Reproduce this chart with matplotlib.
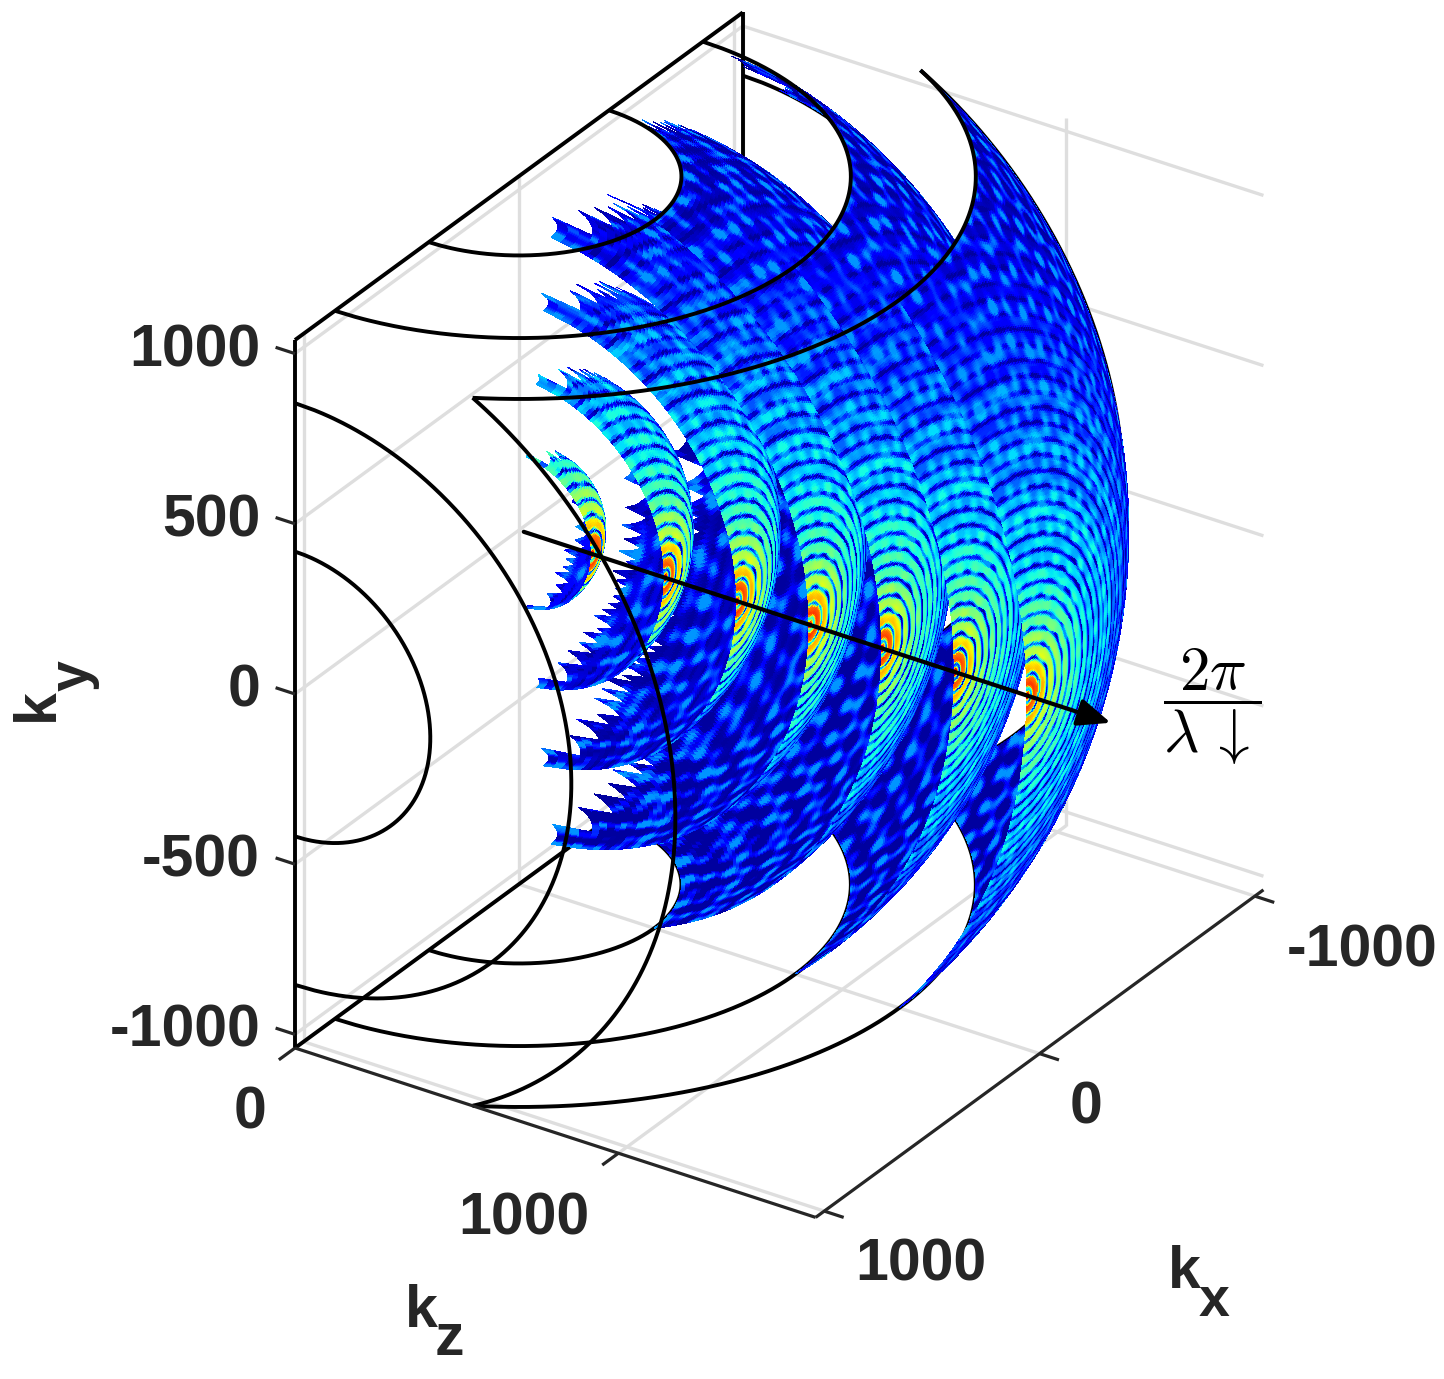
import numpy as np
import matplotlib
matplotlib.use("Agg")
import matplotlib.pyplot as plt
from mpl_toolkits.mplot3d import proj3d
from mpl_toolkits.mplot3d.art3d import Poly3DCollection

# --- values ---
shell_radii = [224, 449, 673, 897, 1121, 1346, 1570]
arc_radii = [1121, 1346, 1570]
kx_ticks = [1000, 0, -1000]
ky_ticks = [1000, 500, 0, -500, -1000]
kz_ticks = [0, 1000]
kx_limit = 1040
ky_limit = 1040
kz_limit = 1610
arrow_kz = [15, 1830]
# colour level of the ring crests against distance from the peak
crest_q = [0, 35, 70, 120, 200, 300, 500, 700, 900, 1100, 1300]
crest_level = [.96, .86, .73, .60, .49, .42, .37, .33, .27, .16, .08]
# NOTE: the speckle inside the shells has hundreds of blobs that cannot be read one by one;
# it is a deterministic approximation of the look (ring spacing and blob spacing read from the
# picture), not measured data.
ring_spacing = 40.0
blob_spacing = 64.0

W, H = 1444, 1379
DARK = "#262626"
FONT = "Liberation Sans"
elev, azim = 29.2, 33.7

fig = plt.figure(figsize=(W / 100, H / 100), dpi=100)
ax = fig.add_axes([0, 0, 1, 1], projection="3d", proj_type="ortho", computed_zorder=False)
ax.set_xlim(-kx_limit, kx_limit, view_margin=0)
ax.set_ylim(0, kz_limit, view_margin=0)
ax.set_zlim(-ky_limit, ky_limit, view_margin=0)
ax.set_box_aspect((806, 625, 810))
ax.view_init(elev=elev, azim=azim)
ax.set_axis_off()


def place_axes():
    """Fit the 3D box to the frame of the figure."""
    def pix(x, y, z):
        px, py, _ = proj3d.proj_transform(x, y, z, ax.get_proj())
        return ax.transData.transform((px, py))
    S = float(H)
    ax.set_position([0, 0, S / W, S / H])
    ax.apply_aspect()
    a = pix(kx_limit, 0, ky_limit)
    b = pix(kx_limit, 0, -ky_limit)
    S *= 708.0 / abs(a[1] - b[1])
    ax.set_position([0, 0, S / W, S / H])
    ax.apply_aspect()
    a = pix(kx_limit, 0, ky_limit)
    ox = 295 - a[0]
    oy = (H - 340) - a[1]
    ax.set_position([ox / W, oy / H, S / W, S / H])
    ax.apply_aspect()


place_axes()


def line(xs, ys, zs, **kw):
    ax.plot(xs, ys, zs, solid_capstyle="butt", **kw)


def pattern(kx, ky, kz):
    g = 2 * np.pi / blob_spacing
    s = (np.cos(g * kx) + np.cos(.86 * g * ky) + np.cos(1.07 * g * kz)
         + .7 * np.cos(.66 * g * (kx + ky)) + .7 * np.cos(.53 * g * (kx - ky + .5 * kz)))
    return s / 4.4


cam = np.array([np.cos(np.radians(elev)) * np.cos(np.radians(azim)),
                np.cos(np.radians(elev)) * np.sin(np.radians(azim)),
                np.sin(np.radians(elev))])


def shell_quads(R, cells_x=70, cells_y=140, n=3):
    cx = np.linspace(-kx_limit, 0, cells_x + 1)
    cy = np.linspace(-ky_limit, ky_limit, cells_y + 1)
    X, Y = np.meshgrid(cx, cy, indexing="ij")
    Z = np.sqrt(np.where(R**2 - X**2 - Y**2 >= 0, R**2 - X**2 - Y**2, np.nan))
    ok = ~(np.isnan(Z[:-1, :-1]) | np.isnan(Z[1:, :-1]) | np.isnan(Z[:-1, 1:]) | np.isnan(Z[1:, 1:]))
    i, j = np.nonzero(ok)
    if len(i) == 0:
        return None
    t = np.arange(n) / n
    U, V = np.meshgrid(t, t, indexing="ij")
    U = U.ravel()[None, :]
    V = V.ravel()[None, :]
    du = 1.0 / n
    x0 = cx[i][:, None]; dx = (cx[i + 1] - cx[i])[:, None]
    y0 = cy[j][:, None]; dy = (cy[j + 1] - cy[j])[:, None]
    z00 = Z[i, j][:, None]; z10 = Z[i + 1, j][:, None]
    z01 = Z[i, j + 1][:, None]; z11 = Z[i + 1, j + 1][:, None]

    def vert(u, v):
        return (x0 + u * dx, y0 + v * dy,
                z00 * (1 - u) * (1 - v) + z10 * u * (1 - v) + z01 * (1 - u) * v + z11 * u * v)

    corners = [vert(U, V), vert(U + du, V), vert(U + du, V + du), vert(U, V + du)]
    vx = np.stack([c[0].ravel() for c in corners], axis=1)
    vy = np.stack([c[1].ravel() for c in corners], axis=1)
    vz = np.stack([c[2].ravel() for c in corners], axis=1)
    # order of the 3D axes: x = kx, y = kz, z = ky
    verts = np.stack([vx, vz, vy], axis=2)

    kx, ky, kz = vx.mean(1), vy.mean(1), vz.mean(1)
    q = np.sqrt(kx**2 + ky**2 + (kz - R)**2)
    s = pattern(kx, ky, kz)
    b = np.clip(.5 + 1.1 * s, 0, 1)
    blob = .03 + .24 * np.clip((s + .14) / .62, 0, 1)
    facing = (kx * cam[0] + kz * cam[1] + ky * cam[2]) / R
    f = np.clip((facing + .05) / .25, 0, 1)
    phase = np.pi * (q + 5 * s) / ring_spacing
    depth = .55 + .45 * (1 - b)
    r = 1 - depth * np.abs(np.sin(phase))**8
    mod = 1 - np.interp(q, [0, 200, 800], [.03, .1, .55]) * (1 - b)
    crest = np.interp(q, crest_q, crest_level) * (.3 + .7 * f)
    v = np.maximum(crest * r * mod, blob)
    return verts, plt.cm.jet(v)


# grey grid on the three back walls
grid = dict(color="#dedede", lw=2.4, zorder=1)
for ky in ky_ticks:
    line([-kx_limit, -kx_limit], [0, kz_limit], [ky, ky], **grid)
    line([-kx_limit, kx_limit], [0, 0], [ky, ky], **grid)
for kx in kx_ticks:
    line([kx, kx], [0, kz_limit], [-ky_limit, -ky_limit], **grid)
    line([kx, kx], [0, 0], [-ky_limit, ky_limit], **grid)
for kz in kz_ticks:
    line([-kx_limit, kx_limit], [kz, kz], [-ky_limit, -ky_limit], **grid)
    line([-kx_limit, -kx_limit], [kz, kz], [-ky_limit, ky_limit], **grid)

black = dict(color="black", lw=2.8)
# hidden-behind box edges and arcs
line([kx_limit, -kx_limit], [0, 0], [-ky_limit, -ky_limit], zorder=2, **black)
line([-kx_limit, -kx_limit], [0, 0], [-ky_limit, ky_limit], zorder=2, **black)

for R in arc_radii:
    rho = np.sqrt(R**2 - kx_limit**2)
    # walls kx = +/- limit
    top = min(rho, ky_limit)
    a = np.linspace(-top, top, 800)
    kz = np.sqrt(np.maximum(rho**2 - a**2, 0))
    line(np.full_like(a, -kx_limit), kz, a, zorder=2, **black)
    line(np.full_like(a, kx_limit), kz, a, zorder=6, **black)
    # floor and lid ky = +/- limit
    rho2 = np.sqrt(R**2 - ky_limit**2)
    top = min(rho2, kx_limit)
    a = np.linspace(-top, top, 800)
    kz = np.sqrt(np.maximum(rho2**2 - a**2, 0))
    line(a, kz, np.full_like(a, -ky_limit), zorder=2, **black)
    line(a, kz, np.full_like(a, ky_limit), zorder=6, **black)

# the seven shells, all quads sorted together by depth
all_v, all_c = [], []
for R in shell_radii:
    res = shell_quads(R)
    if res is not None:
        all_v.append(res[0])
        all_c.append(res[1])
poly = Poly3DCollection(np.concatenate(all_v), facecolors=np.concatenate(all_c),
                        edgecolors="none", linewidths=0, antialiased=False, zsort="average", zorder=4)
ax.add_collection3d(poly, autolim=False)

# front box edges
line([kx_limit, kx_limit], [0, 0], [-ky_limit, ky_limit], zorder=7, **black)
line([kx_limit, -kx_limit], [0, 0], [ky_limit, ky_limit], zorder=7, **black)

# axes lines and ticks
axis = dict(color=DARK, lw=2.3, zorder=7)
line([kx_limit, kx_limit], [0, kz_limit], [-ky_limit, -ky_limit], **axis)
line([kx_limit, -kx_limit], [kz_limit, kz_limit], [-ky_limit, -ky_limit], **axis)
for ky in ky_ticks:
    line([kx_limit, kx_limit], [0, -60], [ky, ky], **axis)
for kz in kz_ticks:
    line([kx_limit, kx_limit + 75], [kz, kz], [-ky_limit, -ky_limit], **axis)
for kx in kx_ticks:
    line([kx, kx], [kz_limit, kz_limit + 60], [-ky_limit, -ky_limit], **axis)

# arrow along kz
p0 = proj3d.proj_transform(0, arrow_kz[0], 0, ax.get_proj())[:2]
p1 = proj3d.proj_transform(0, arrow_kz[1], 0, ax.get_proj())[:2]
ax.annotate("", xy=p1, xytext=p0, xycoords="data", textcoords="data", zorder=9,
            arrowprops=dict(arrowstyle="-|>,head_length=1.0,head_width=0.42", color="black", lw=3.0,
                            mutation_scale=20, shrinkA=0, shrinkB=0))


def txt(x, y, s, **kw):
    kw.setdefault("fontsize", 42.5)
    kw.setdefault("fontweight", "bold")
    kw.setdefault("family", FONT)
    kw.setdefault("color", DARK)
    kw.setdefault("ha", "center")
    kw.setdefault("va", "center")
    fig.text(x / W, 1 - y / H, s, **kw)


for label, y in zip(["1000", "500", "0", "-500", "-1000"], [351, 521, 691, 861, 1031]):
    txt(260, y, label, ha="right")
txt(250, 1113, "0")
txt(524, 1219, "1000")
txt(921, 1265, "1000")
txt(1086, 1108, "0")
txt(1362, 951, "-1000")
txt(405, 1327, "k", ha="left", va="baseline")
txt(435, 1355, "z", ha="left", va="baseline")
txt(1168, 1288, "k", ha="left", va="baseline")
txt(1199, 1316, "x", ha="left", va="baseline", fontsize=40)
txt(65, 721, "k", ha="left", va="bottom", rotation=90, rotation_mode="anchor")
txt(88, 691, "y", ha="left", va="baseline", rotation=90, rotation_mode="anchor", fontsize=40)
fig.text(1212 / W, 1 - 707 / H, r"$\dfrac{2\pi}{\lambda\,\downarrow}$", fontsize=44, math_fontfamily="cm",
         ha="center", va="center", color="black")

fig.savefig("out.png", dpi=100)
